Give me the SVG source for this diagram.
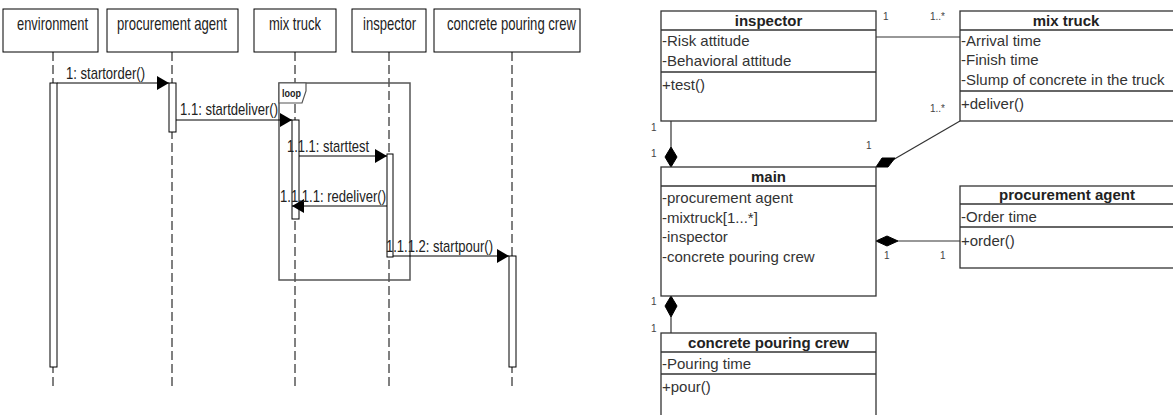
<svg xmlns="http://www.w3.org/2000/svg" width="1173" height="415" viewBox="0 0 1173 415">
<defs>
<style>
text{font-family:"Liberation Sans",Arial,sans-serif;fill:#222}
.hdr{font-size:19px;text-anchor:middle}
.msg{font-size:17px}
.box{fill:#fff;stroke:#000;stroke-width:1}
.life{stroke:#000;stroke-width:1;stroke-dasharray:9 4;fill:none}
.act{fill:#fff;stroke:#000;stroke-width:1}
.mline{stroke:#000;stroke-width:1;fill:none}
.cls{fill:#fff;stroke:#333;stroke-width:1.3}
.div{stroke:#333;stroke-width:1.3}
.ttl{font-size:15px;font-weight:bold;text-anchor:middle}
.att{font-size:15px;fill:#333}
.mult{font-size:10px;fill:#444}
.assoc{stroke:#333;stroke-width:1.2;fill:none}
.dia{fill:#000;stroke:#000;stroke-width:1}
</style>
<marker id="arr" markerUnits="userSpaceOnUse" markerWidth="13" markerHeight="15" refX="12" refY="7" orient="auto">
<path d="M0,0 L12,7 L0,14 Z" fill="#000"/>
</marker>
</defs>
<rect width="1173" height="415" fill="#fff"/>

<!-- Sequence diagram -->
<g id="seq-environment">
<line class="life" x1="53" y1="52" x2="53" y2="388"/>
<rect class="box" x="3" y="9" width="95" height="43"/>
<text class="hdr" x="52.5" y="30" textLength="71" lengthAdjust="spacingAndGlyphs">environment</text>
<rect class="act" x="50" y="83" width="7" height="284"/>
</g>
<g id="seq-procurement-agent">
<line class="life" x1="172" y1="52" x2="172" y2="388"/>
<rect class="box" x="107" y="9" width="131" height="43"/>
<text class="hdr" x="172" y="30" textLength="110" lengthAdjust="spacingAndGlyphs">procurement agent</text>
<rect class="act" x="169" y="83" width="7" height="49"/>
</g>
<g id="seq-mix-truck">
<line class="life" x1="295" y1="52" x2="295" y2="388"/>
<rect class="box" x="254" y="9" width="82" height="43"/>
<text class="hdr" x="295" y="30" textLength="52" lengthAdjust="spacingAndGlyphs">mix truck</text>
</g>
<g id="seq-inspector">
<line class="life" x1="389" y1="52" x2="389" y2="388"/>
<rect class="box" x="352" y="9" width="74" height="43"/>
<text class="hdr" x="389.5" y="30" textLength="53" lengthAdjust="spacingAndGlyphs">inspector</text>
</g>
<g id="seq-concrete-pouring-crew">
<line class="life" x1="512" y1="52" x2="512" y2="388"/>
<rect class="box" x="434" y="9" width="146" height="43"/>
<text class="hdr" x="511.5" y="30" textLength="129" lengthAdjust="spacingAndGlyphs">concrete pouring crew</text>
<rect class="act" x="509" y="256" width="7" height="111"/>
</g>
<g id="seq-loop">
<rect x="279" y="83" width="131" height="197" fill="none" stroke="#555" stroke-width="1.5"/>
<path d="M279,83 L306,83 L306,91 L302,103 L279,103 Z" fill="#fff" stroke="#555" stroke-width="1.2"/>
<text x="282" y="97" font-size="10" font-weight="bold" textLength="19" lengthAdjust="spacingAndGlyphs">loop</text>
</g>
<g id="seq-activations-inner">
<rect class="act" x="292" y="120" width="7" height="99"/>
<rect class="act" x="387" y="154" width="6" height="103"/>
</g>
<g id="seq-messages">
<line class="mline" x1="57" y1="83" x2="169" y2="83" marker-end="url(#arr)"/>
<text class="msg" x="66" y="79" textLength="79" lengthAdjust="spacingAndGlyphs">1: startorder()</text>
<line class="mline" x1="176" y1="120" x2="292" y2="120" marker-end="url(#arr)"/>
<text class="msg" x="180" y="115" textLength="98" lengthAdjust="spacingAndGlyphs">1.1: startdeliver()</text>
<line class="mline" x1="299" y1="156" x2="387" y2="156" marker-end="url(#arr)"/>
<text class="msg" x="287" y="152" textLength="82" lengthAdjust="spacingAndGlyphs">1.1.1: starttest</text>
<line class="mline" x1="387" y1="206" x2="292" y2="206" marker-end="url(#arr)"/>
<text class="msg" x="280" y="202" textLength="106" lengthAdjust="spacingAndGlyphs">1.1.1.1: redeliver()</text>
<line class="mline" x1="393" y1="256" x2="509" y2="256" marker-end="url(#arr)"/>
<text class="msg" x="386" y="252" textLength="107" lengthAdjust="spacingAndGlyphs">1.1.1.2: startpour()</text>
</g>

<!-- Class diagram -->
<g id="connectors">
<line class="assoc" x1="876" y1="37" x2="960" y2="37"/>
<text class="mult" x="883" y="20">1</text>
<text class="mult" x="930" y="20">1..*</text>
<line class="assoc" x1="960" y1="121" x2="891" y2="161"/>
<polygon class="dia" points="876,167 888,167 895,158 882,158"/>
<text class="mult" x="930" y="112">1..*</text>
<text class="mult" x="866" y="149">1</text>
<line class="assoc" x1="671" y1="121" x2="671" y2="147"/>
<polygon class="dia" points="671,147 677,157 671,167 665,157"/>
<text class="mult" x="651" y="131">1</text>
<text class="mult" x="651" y="157">1</text>
<line class="assoc" x1="898" y1="241" x2="960" y2="241"/>
<polygon class="dia" points="876,241 887,236 898,241 887,246"/>
<text class="mult" x="884" y="259">1</text>
<text class="mult" x="940" y="259">1</text>
<line class="assoc" x1="671" y1="317" x2="671" y2="333"/>
<polygon class="dia" points="671,296 677,306 671,317 665,306"/>
<text class="mult" x="651" y="305">1</text>
<text class="mult" x="651" y="332">1</text>
</g>
<g id="cls-inspector">
<rect class="cls" x="661" y="11" width="215" height="110"/>
<line class="div" x1="661" y1="30" x2="876" y2="30"/>
<line class="div" x1="661" y1="72" x2="876" y2="72"/>
<text class="ttl" x="768.5" y="26">inspector</text>
<text class="att" x="662" y="46">-Risk attitude</text>
<text class="att" x="662" y="66">-Behavioral attitude</text>
<text class="att" x="662" y="90">+test()</text>
</g>
<g id="cls-mix-truck">
<rect class="cls" x="960" y="11" width="220" height="110"/>
<line class="div" x1="960" y1="30" x2="1180" y2="30"/>
<line class="div" x1="960" y1="91" x2="1180" y2="91"/>
<text class="ttl" x="1066" y="26">mix truck</text>
<text class="att" x="961" y="46">-Arrival time</text>
<text class="att" x="961" y="65">-Finish time</text>
<text class="att" x="961" y="85">-Slump of concrete in the truck</text>
<text class="att" x="961" y="109">+deliver()</text>
</g>
<g id="cls-main">
<rect class="cls" x="661" y="167" width="215" height="129"/>
<line class="div" x1="661" y1="186" x2="876" y2="186"/>
<text class="ttl" x="768.5" y="182">main</text>
<text class="att" x="662" y="203">-procurement agent</text>
<text class="att" x="662" y="223">-mixtruck[1...*]</text>
<text class="att" x="662" y="242">-inspector</text>
<text class="att" x="662" y="262">-concrete pouring crew</text>
</g>
<g id="cls-procurement-agent">
<rect class="cls" x="960" y="186" width="220" height="82"/>
<line class="div" x1="960" y1="204" x2="1180" y2="204"/>
<line class="div" x1="960" y1="227" x2="1180" y2="227"/>
<text class="ttl" x="1067" y="200">procurement agent</text>
<text class="att" x="961" y="222">-Order time</text>
<text class="att" x="961" y="246">+order()</text>
</g>
<g id="cls-concrete-pouring-crew">
<rect class="cls" x="661" y="333" width="215" height="90"/>
<line class="div" x1="661" y1="352" x2="876" y2="352"/>
<line class="div" x1="661" y1="374" x2="876" y2="374"/>
<text class="ttl" x="768.5" y="348">concrete pouring crew</text>
<text class="att" x="662" y="369">-Pouring time</text>
<text class="att" x="662" y="392">+pour()</text>
</g>
</svg>
